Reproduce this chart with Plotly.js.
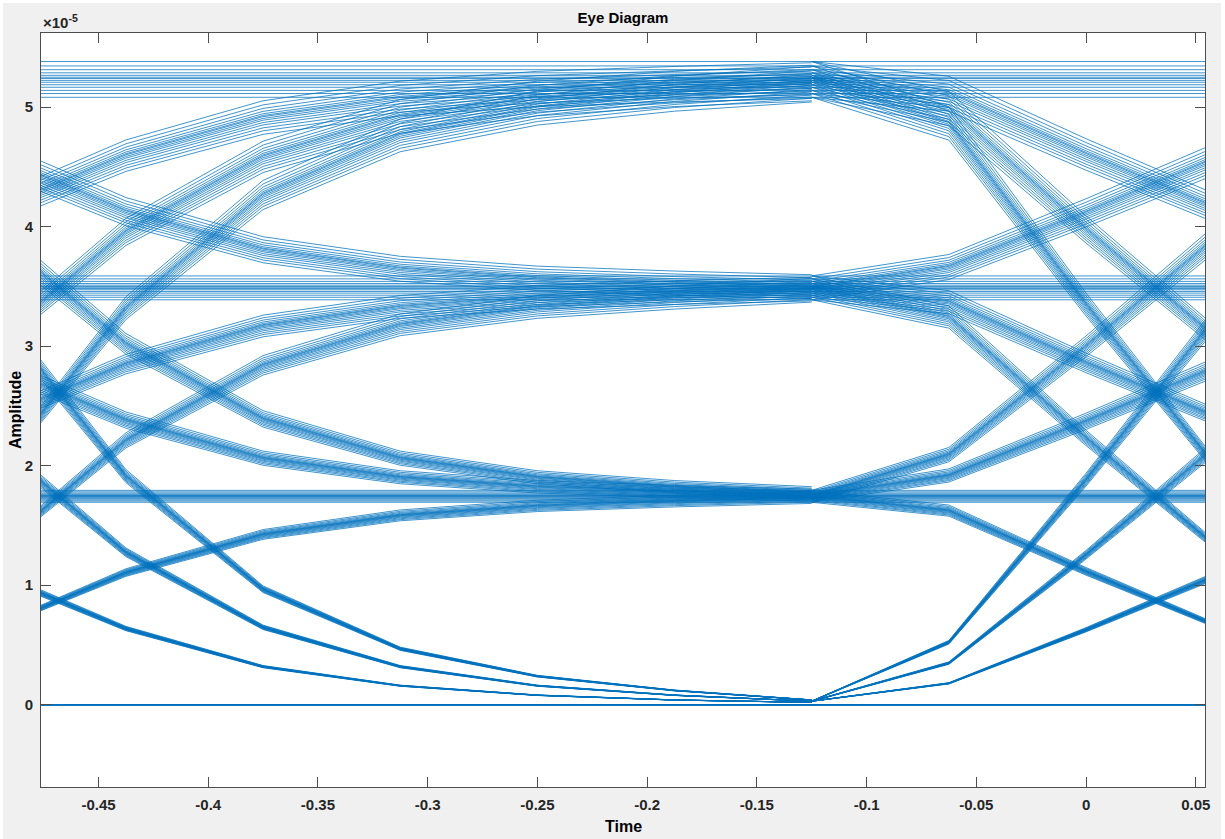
<!DOCTYPE html>
<html><head><meta charset="utf-8">
<script src="https://cdn.plot.ly/plotly-3.0.1.min.js"></script>
<style>html,body{margin:0;padding:0;background:#fff;}</style>
</head><body>
<div id="chart" style="width:1225px;height:839px;"></div>
<script>
// sample instants (Time) of the eye traces
const timeLeft  = [-0.5, -0.4375, -0.375, -0.3125, -0.25, -0.1875, -0.125];
const timeRight = [-0.125, -0.0625, 0, 0.0625];

// Amplitude (x1e-5) of the settling part of each symbol transition (previous level -> current level)
const leftPaths = [
  [0, 0, 0, 0, 0, 0, 0],
  [0.63, 1.11, 1.43, 1.59, 1.67, 1.71, 1.74],
  [1.26, 2.22, 2.85, 3.19, 3.34, 3.42, 3.48],
  [1.89, 3.33, 4.28, 4.78, 5.01, 5.13, 5.21],
  [1.12, 0.64, 0.32, 0.16, 0.08, 0.04, 0.02],
  [1.75, 1.75, 1.75, 1.75, 1.75, 1.75, 1.75],
  [2.38, 2.86, 3.18, 3.34, 3.42, 3.46, 3.49],
  [3.01, 3.97, 4.60, 4.94, 5.09, 5.17, 5.22],
  [2.24, 1.28, 0.65, 0.32, 0.16, 0.08, 0.03],
  [2.87, 2.39, 2.07, 1.91, 1.83, 1.79, 1.76],
  [3.5, 3.5, 3.5, 3.5, 3.5, 3.5, 3.5],
  [4.13, 4.61, 4.93, 5.09, 5.17, 5.21, 5.24],
  [3.36, 1.92, 0.97, 0.47, 0.24, 0.12, 0.04],
  [3.99, 3.03, 2.40, 2.07, 1.91, 1.83, 1.78],
  [4.62, 4.14, 3.82, 3.66, 3.58, 3.54, 3.51],
  [5.25, 5.25, 5.25, 5.25, 5.25, 5.25, 5.25]
];

// Amplitude (x1e-5) of the start of the next transition (current level -> next level)
const rightPaths = [
  [0, 0, 0, 0],
  [0.03, 0.18, 0.63, 1.11],
  [0.03, 0.35, 1.26, 2.22],
  [0.03, 0.525, 1.89, 3.33],
  [1.75, 1.63, 1.12, 0.64],
  [1.75, 1.75, 1.75, 1.75],
  [1.75, 1.925, 2.38, 2.86],
  [1.75, 2.10, 3.01, 3.97],
  [3.5, 3.255, 2.24, 1.28],
  [3.5, 3.38, 2.87, 2.39],
  [3.5, 3.5, 3.5, 3.5],
  [3.5, 3.675, 4.13, 4.61],
  [5.25, 4.88, 3.36, 1.92],
  [5.25, 5.005, 3.99, 3.03],
  [5.25, 5.13, 4.62, 4.14],
  [5.25, 5.25, 5.25, 5.25]
];

const levelSpread = [0.968, 0.974, 0.979, 0.984, 0.988, 0.992, 0.995, 0.998, 1.0, 1.003, 1.007, 1.012, 1.018, 1.025];

const xTickVals = [-0.45, -0.4, -0.35, -0.3, -0.25, -0.2, -0.15, -0.1, -0.05, 0, 0.05];
const xTickText = ['-0.45', '-0.4', '-0.35', '-0.3', '-0.25', '-0.2', '-0.15', '-0.1', '-0.05', '0', '0.05'];
const yTickVals = [0, 1, 2, 3, 4, 5];
const yTickText = ['0', '1', '2', '3', '4', '5'];

const xs = [], ys = [];
function addPaths(times, paths) {
  levelSpread.forEach(g => {
    paths.forEach(p => {
      times.forEach((t, i) => { xs.push(t); ys.push(p[i] * g); });
      xs.push(null); ys.push(null);
    });
  });
}
addPaths(timeLeft, leftPaths);
addPaths(timeRight, rightPaths);

const trace = {
  type: 'scatter', mode: 'lines', x: xs, y: ys,
  line: {color: '#0072BD', width: 0.75},
  connectgaps: false, hoverinfo: 'skip'
};

const font = {family: 'Liberation Sans, Arial, Helvetica, sans-serif', color: '#000000'};
const axisCommon = {
  ticks: 'inside', ticklen: 10, tickwidth: 1, tickcolor: '#4d4d4d',
  showline: true, linecolor: '#4d4d4d', linewidth: 1, mirror: 'ticks',
  showgrid: false, zeroline: false, fixedrange: true,
  tickfont: Object.assign({}, font, {size: 15, weight: 'bold', color: '#262626'})
};

const white = {type: 'rect', xref: 'paper', yref: 'paper', fillcolor: '#ffffff', line: {width: 0}, layer: 'below'};

const layout = {
  width: 1225, height: 839,
  margin: {l: 41, r: 20, t: 33, b: 52},
  paper_bgcolor: '#f0f0f0', plot_bgcolor: '#ffffff',
  showlegend: false,
  title: {text: '<b>Eye Diagram</b>', font: Object.assign({}, font, {size: 15}),
          xref: 'paper', x: 0.5, xanchor: 'center', yref: 'container', y: 1 - 18/839, yanchor: 'middle'},
  xaxis: Object.assign({}, axisCommon, {range: [-0.4762, 0.0542], tickvals: xTickVals, ticktext: xTickText, ticklabelstandoff: 4}),
  yaxis: Object.assign({}, axisCommon, {range: [-0.688, 5.62], tickvals: yTickVals, ticktext: yTickText, ticklabelstandoff: 4}),
  shapes: [
    Object.assign({}, white, {x0: -0.1, x1: 1.1, y0: 1.0398, y1: 1.1}),
    Object.assign({}, white, {x0: -0.1, x1: -0.0327, y0: -0.1, y1: 1.1}),
    Object.assign({}, white, {x0: 1.0138, x1: 1.1, y0: -0.1, y1: 1.1})
  ],
  annotations: [
    {text: '<b>×10<sup>-5</sup></b>', xref: 'paper', yref: 'paper', x: 0, xanchor: 'left', y: 1.0, yanchor: 'bottom',
     showarrow: false, font: Object.assign({}, font, {size: 15, color: '#262626'})},
    {text: '<b>Time</b>', xref: 'paper', yref: 'paper', x: 0.5, xanchor: 'center', y: (787 - 826) / 754, yanchor: 'middle',
     showarrow: false, font: Object.assign({}, font, {size: 16})},
    {text: '<b>Amplitude</b>', xref: 'paper', yref: 'paper', x: (15 - 41) / 1164, xanchor: 'center', y: 0.5, yanchor: 'middle',
     textangle: -90, showarrow: false, font: Object.assign({}, font, {size: 16})}
  ]
};

Plotly.newPlot('chart', [trace], layout, {displayModeBar: false, staticPlot: true});
</script>
</body></html>
